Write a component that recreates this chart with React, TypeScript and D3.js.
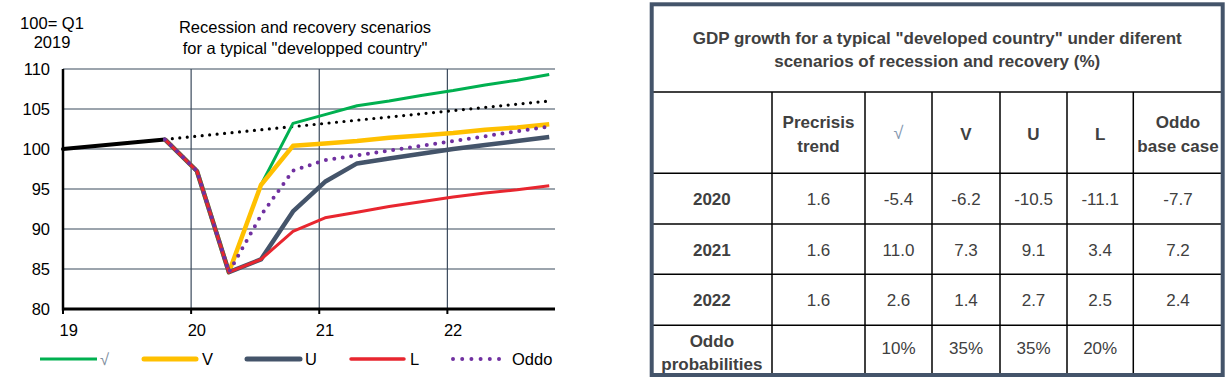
import React from 'react';
import * as d3 from 'd3';

// ---------- Chart data ----------
const historyX = [19.0, 19.795];
const historyValues = [100, 101.2];
const quarterX = [19.795, 20.045, 20.295, 20.545, 20.795, 21.045, 21.295, 21.545, 21.795, 22.045, 22.295, 22.545, 22.795];
const trendValues = [101.2, 101.6, 102.0, 102.4, 102.8, 103.2, 103.6, 104.0, 104.4, 104.8, 105.2, 105.6, 106.0];
const sqrtValues = [101.2, 97.25, 84.6, 95.5, 103.2, 104.3, 105.4, 106.0, 106.7, 107.3, 108.0, 108.6, 109.3];
const vValues = [101.2, 97.25, 84.6, 95.5, 100.4, 100.7, 101.0, 101.4, 101.7, 102.0, 102.4, 102.7, 103.1];
const uValues = [101.2, 97.25, 84.6, 86.2, 92.2, 95.9, 98.2, 98.8, 99.4, 100.0, 100.5, 101.0, 101.5];
const lValues = [101.2, 97.25, 84.6, 86.2, 89.7, 91.4, 92.1, 92.8, 93.4, 94.0, 94.5, 94.9, 95.4];
const oddoValues = [101.2, 97.25, 84.6, 91.7, 97.3, 98.6, 99.2, 99.8, 100.4, 101.0, 101.6, 102.2, 102.8];
const seriesNames = ['√', 'V', 'U', 'L', 'Oddo'];
const yTicks = [80, 85, 90, 95, 100, 105, 110];
const xTicks = [19, 20, 21, 22];
const xTickLabels = ['19', '20', '21', '22'];
const chartTitle = ['Recession and recovery scenarios', 'for a typical "developped country"'];
const unitLabel = ['100= Q1', '2019'];

// ---------- Table data ----------
const tableTitle = ['GDP growth for a typical "developed country" under diferent', 'scenarios of recession and recovery (%)'];
const tableHeaders = [['Precrisis', 'trend'], ['√'], ['V'], ['U'], ['L'], ['Oddo', 'base case']];
const tableYears = ['2020', '2021', '2022'];
const growth2020 = [1.6, -5.4, -6.2, -10.5, -11.1, -7.7];
const growth2021 = [1.6, 11.0, 7.3, 9.1, 3.4, 7.2];
const growth2022 = [1.6, 2.6, 1.4, 2.7, 2.5, 2.4];
const probLabel = ['Oddo', 'probabilities'];
const probabilities: (number | null)[] = [null, 10, 35, 35, 20, null];

const FONT = '"Liberation Sans", Arial, sans-serif';

export default function App() {
  const x = d3.scaleLinear().domain([19, 22.84]).range([63, 555]);
  const y = d3.scaleLinear().domain([80, 110]).range([309, 69]);

  const line = d3
    .line<[number, number]>()
    .x((d) => x(d[0]))
    .y((d) => y(d[1]));

  const pts = (xs: number[], vs: number[]) => xs.map((xv, i) => [xv, vs[i]] as [number, number]);

  const series = [
    { values: sqrtValues, color: '#00B050', width: 3, dash: undefined, cap: 'butt' },
    { values: vValues, color: '#FFC000', width: 4.5, dash: undefined, cap: 'butt' },
    { values: uValues, color: '#44546A', width: 4.5, dash: undefined, cap: 'butt' },
    { values: lValues, color: '#E8262F', width: 3, dash: undefined, cap: 'butt' },
    { values: oddoValues, color: '#7030A0', width: 4, dash: '0 8.5', cap: 'round' },
  ];

  const legendItems = [
    { x0: 40, x1: 97, tx: 100, color: '#00B050', width: 3, dash: undefined, cap: 'butt' },
    { x0: 144, x1: 196, tx: 202, color: '#FFC000', width: 5, dash: undefined, cap: 'round' },
    { x0: 247, x1: 300, tx: 305, color: '#44546A', width: 5, dash: undefined, cap: 'round' },
    { x0: 351, x1: 404, tx: 410, color: '#E8262F', width: 3.5, dash: undefined, cap: 'round' },
    { x0: 453, x1: 500, tx: 512, color: '#7030A0', width: 4, dash: '0 9.2', cap: 'round' },
  ];

  // Table layout
  const colX = [651.7, 772, 865, 932, 1000, 1067, 1133.3, 1222.7];
  const rowY = [4.3, 92, 173.3, 224, 274.3, 325.3, 375];
  const textColor = '#404040';
  const growthRows = [growth2020, growth2021, growth2022];
  const colCenter = (i: number) => (colX[i] + colX[i + 1]) / 2;

  return (
    <svg width={1230} height={383} style={{ position: 'absolute', left: 0, top: 0, background: '#fff' }} fontFamily={FONT}>
      <rect x={0} y={0} width={1230} height={383} fill="#fff" />
      {/* Titles */}
      <text x={52} y={28.5} fontSize={16.5} textAnchor="middle" fill="#000">{unitLabel[0]}</text>
      <text x={52} y={48} fontSize={16.5} textAnchor="middle" fill="#000">{unitLabel[1]}</text>
      <text x={305} y={33} fontSize={16.5} textAnchor="middle" fill="#000">{chartTitle[0]}</text>
      <text x={305} y={54} fontSize={16.5} textAnchor="middle" fill="#000">{chartTitle[1]}</text>

      {/* Gridlines */}
      {yTicks.filter((t) => t > 80).map((t) => (
        <line key={'h' + t} x1={x(19)} x2={x(22.84)} y1={y(t)} y2={y(t)} stroke="#3B4A5C" strokeWidth={1.2} />
      ))}
      {xTicks.filter((t) => t > 19).map((t) => (
        <line key={'v' + t} x1={x(t)} x2={x(t)} y1={y(110)} y2={y(80)} stroke="#3B4A5C" strokeWidth={1.2} />
      ))}

      {/* Axes */}
      <line x1={x(19)} x2={x(19)} y1={y(110)} y2={y(80) + 1.5} stroke="#000" strokeWidth={2.5} />
      <line x1={x(19) - 1} x2={x(22.84)} y1={y(80)} y2={y(80)} stroke="#000" strokeWidth={3} />
      {xTicks.map((t) => (
        <line key={'t' + t} x1={x(t)} x2={x(t)} y1={y(80)} y2={y(80) + 5} stroke="#000" strokeWidth={2} />
      ))}
      {yTicks.map((t) => (
        <text key={'yl' + t} x={50} y={y(t) + 6} fontSize={16.5} textAnchor="end" fill="#000">{t}</text>
      ))}
      {xTicks.map((t, i) => (
        <text key={'xl' + t} x={x(t) - 3.5} y={336} fontSize={16.5} textAnchor="start" fill="#000">{xTickLabels[i]}</text>
      ))}

      {/* Lines */}
      <path d={line(pts(historyX, historyValues)) || ''} fill="none" stroke="#000" strokeWidth={4} strokeLinecap="round" />
      <path d={line(pts(quarterX, trendValues)) || ''} fill="none" stroke="#000" strokeWidth={3.2} strokeDasharray="0 7.5" strokeLinecap="round" />
      {series.map((s, i) => (
        <path
          key={'s' + i}
          d={line(pts(quarterX, s.values)) || ''}
          fill="none"
          stroke={s.color}
          strokeWidth={s.width}
          strokeDasharray={s.dash}
          strokeLinecap={s.cap as any}
          strokeLinejoin="round"
        />
      ))}

      {/* Legend */}
      {legendItems.map((l, i) => (
        <g key={'lg' + i}>
          <line x1={l.x0} x2={l.x1} y1={359} y2={359} stroke={l.color} strokeWidth={l.width} strokeDasharray={l.dash} strokeLinecap={l.cap as any} />
          <text x={l.tx} y={365} fontSize={16.5} fill={i === 0 ? '#7F8FA0' : '#000'}>{seriesNames[i]}</text>
        </g>
      ))}

      {/* Table */}
      <text x={(colX[0] + colX[7]) / 2} y={43.5} fontSize={17} fontWeight="bold" textAnchor="middle" fill={textColor}>{tableTitle[0]}</text>
      <text x={(colX[0] + colX[7]) / 2} y={66.5} fontSize={17} fontWeight="bold" textAnchor="middle" fill={textColor}>{tableTitle[1]}</text>

      {rowY.slice(1, 6).map((ry, i) => (
        <line key={'tr' + i} x1={colX[0]} x2={colX[7]} y1={ry} y2={ry} stroke="#000" strokeWidth={1.5} />
      ))}
      {colX.slice(1, 7).map((cx, i) => (
        <line key={'tc' + i} x1={cx} x2={cx} y1={rowY[1]} y2={rowY[6]} stroke="#000" strokeWidth={1.5} />
      ))}

      {tableHeaders.map((h, i) => {
        const cx = colCenter(i + 1);
        if (h.length === 2) {
          return (
            <g key={'hd' + i}>
              <text x={cx} y={127.5} fontSize={17} fontWeight="bold" textAnchor="middle" fill={textColor}>{h[0]}</text>
              <text x={cx} y={152} fontSize={17} fontWeight="bold" textAnchor="middle" fill={textColor}>{h[1]}</text>
            </g>
          );
        }
        const isRoot = h[0] === '√';
        return (
          <text key={'hd' + i} x={cx} y={isRoot ? 139 : 140} fontSize={isRoot ? 18 : 17} fontWeight={isRoot ? 'normal' : 'bold'} textAnchor="middle" fill={isRoot ? '#8497B0' : textColor}>{h[0]}</text>
        );
      })}

      {growthRows.map((row, r) => {
        const cy = (rowY[r + 2] + rowY[r + 3]) / 2 + 6.5;
        return (
          <g key={'gr' + r}>
            <text x={colCenter(0)} y={cy} fontSize={17} fontWeight="bold" textAnchor="middle" fill={textColor}>{tableYears[r]}</text>
            {row.map((v, c) => (
              <text key={c} x={colCenter(c + 1)} y={cy} fontSize={17} textAnchor="middle" fill={textColor}>{v.toFixed(1)}</text>
            ))}
          </g>
        );
      })}

      <text x={colCenter(0)} y={347} fontSize={17} fontWeight="bold" textAnchor="middle" fill={textColor}>{probLabel[0]}</text>
      <text x={colCenter(0)} y={370} fontSize={17} fontWeight="bold" textAnchor="middle" fill={textColor}>{probLabel[1]}</text>
      {probabilities.map((p, c) =>
        p === null ? null : (
          <text key={'p' + c} x={colCenter(c + 1)} y={353.5} fontSize={17} textAnchor="middle" fill={textColor}>{p + '%'}</text>
        )
      )}

      <rect x={colX[0]} y={rowY[0]} width={colX[7] - colX[0]} height={rowY[6] - rowY[0]} fill="none" stroke="#44546A" strokeWidth={4} />
    </svg>
  );
}
